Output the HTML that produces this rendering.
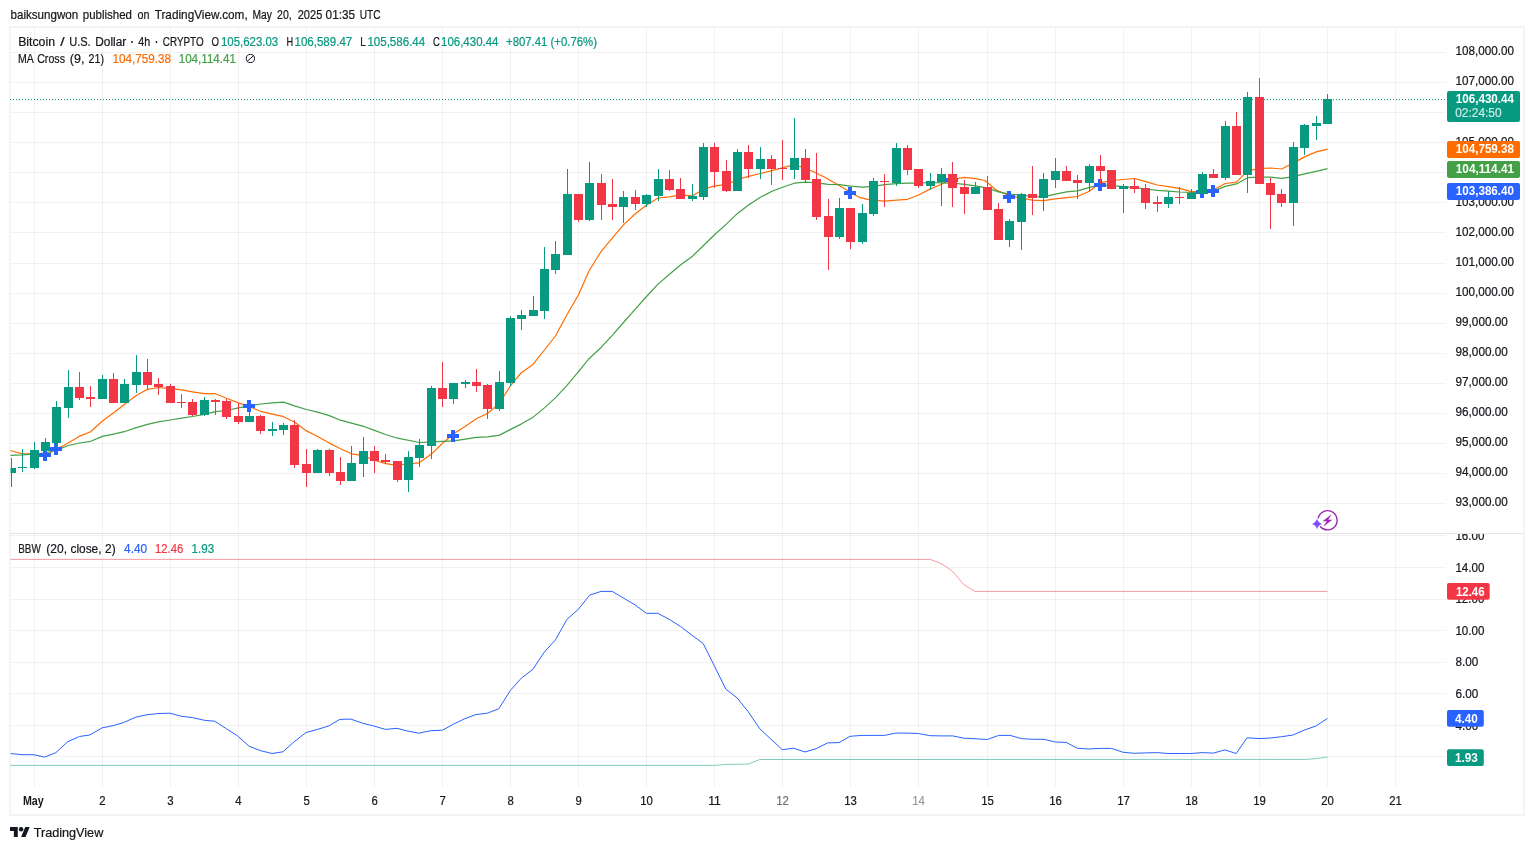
<!DOCTYPE html>
<html><head><meta charset="utf-8"><title>BTCUSD chart</title>
<style>html,body{margin:0;padding:0;background:#fff;width:1534px;height:850px;overflow:hidden}body{position:relative;font-family:"Liberation Sans",sans-serif}</style>
</head><body>
<svg width="1534" height="850" viewBox="0 0 1534 850" style="display:block;position:absolute;left:0;top:0;will-change:transform" font-family="Liberation Sans, sans-serif" font-size="12.5px" fill="#16171c">
<rect x="0" y="0" width="1534" height="850" fill="#fff"/>
<rect x="10" y="27" width="1514" height="788" fill="none" stroke="#f2f2f2" stroke-width="1.6"/>
<defs><clipPath id="cm"><rect x="10.5" y="28" width="1436" height="505"/></clipPath><clipPath id="cb"><rect x="10.5" y="534" width="1436" height="253"/></clipPath><clipPath id="ca"><rect x="1446" y="534" width="78" height="253"/></clipPath></defs>
<rect x="34" y="28" width="1" height="759" fill="#000" fill-opacity="0.05"/>
<rect x="102" y="28" width="1" height="759" fill="#000" fill-opacity="0.05"/>
<rect x="170" y="28" width="1" height="759" fill="#000" fill-opacity="0.05"/>
<rect x="238" y="28" width="1" height="759" fill="#000" fill-opacity="0.05"/>
<rect x="306" y="28" width="1" height="759" fill="#000" fill-opacity="0.05"/>
<rect x="374" y="28" width="1" height="759" fill="#000" fill-opacity="0.05"/>
<rect x="442" y="28" width="1" height="759" fill="#000" fill-opacity="0.05"/>
<rect x="510" y="28" width="1" height="759" fill="#000" fill-opacity="0.05"/>
<rect x="578" y="28" width="1" height="759" fill="#000" fill-opacity="0.05"/>
<rect x="646" y="28" width="1" height="759" fill="#000" fill-opacity="0.05"/>
<rect x="714" y="28" width="1" height="759" fill="#000" fill-opacity="0.05"/>
<rect x="782" y="28" width="1" height="759" fill="#000" fill-opacity="0.05"/>
<rect x="850" y="28" width="1" height="759" fill="#000" fill-opacity="0.05"/>
<rect x="918" y="28" width="1" height="759" fill="#000" fill-opacity="0.05"/>
<rect x="987" y="28" width="1" height="759" fill="#000" fill-opacity="0.05"/>
<rect x="1055" y="28" width="1" height="759" fill="#000" fill-opacity="0.05"/>
<rect x="1123" y="28" width="1" height="759" fill="#000" fill-opacity="0.05"/>
<rect x="1191" y="28" width="1" height="759" fill="#000" fill-opacity="0.05"/>
<rect x="1259" y="28" width="1" height="759" fill="#000" fill-opacity="0.05"/>
<rect x="1327" y="28" width="1" height="759" fill="#000" fill-opacity="0.05"/>
<rect x="1395" y="28" width="1" height="759" fill="#000" fill-opacity="0.05"/>
<rect x="10.5" y="503" width="1435.5" height="1" fill="#000" fill-opacity="0.05"/>
<rect x="10.5" y="473" width="1435.5" height="1" fill="#000" fill-opacity="0.05"/>
<rect x="10.5" y="443" width="1435.5" height="1" fill="#000" fill-opacity="0.05"/>
<rect x="10.5" y="413" width="1435.5" height="1" fill="#000" fill-opacity="0.05"/>
<rect x="10.5" y="383" width="1435.5" height="1" fill="#000" fill-opacity="0.05"/>
<rect x="10.5" y="353" width="1435.5" height="1" fill="#000" fill-opacity="0.05"/>
<rect x="10.5" y="323" width="1435.5" height="1" fill="#000" fill-opacity="0.05"/>
<rect x="10.5" y="293" width="1435.5" height="1" fill="#000" fill-opacity="0.05"/>
<rect x="10.5" y="263" width="1435.5" height="1" fill="#000" fill-opacity="0.05"/>
<rect x="10.5" y="232" width="1435.5" height="1" fill="#000" fill-opacity="0.05"/>
<rect x="10.5" y="202" width="1435.5" height="1" fill="#000" fill-opacity="0.05"/>
<rect x="10.5" y="172" width="1435.5" height="1" fill="#000" fill-opacity="0.05"/>
<rect x="10.5" y="142" width="1435.5" height="1" fill="#000" fill-opacity="0.05"/>
<rect x="10.5" y="112" width="1435.5" height="1" fill="#000" fill-opacity="0.05"/>
<rect x="10.5" y="82" width="1435.5" height="1" fill="#000" fill-opacity="0.05"/>
<rect x="10.5" y="52" width="1435.5" height="1" fill="#000" fill-opacity="0.05"/>
<rect x="10.5" y="756" width="1435.5" height="1" fill="#000" fill-opacity="0.05"/>
<rect x="10.5" y="725" width="1435.5" height="1" fill="#000" fill-opacity="0.05"/>
<rect x="10.5" y="693" width="1435.5" height="1" fill="#000" fill-opacity="0.05"/>
<rect x="10.5" y="662" width="1435.5" height="1" fill="#000" fill-opacity="0.05"/>
<rect x="10.5" y="630" width="1435.5" height="1" fill="#000" fill-opacity="0.05"/>
<rect x="10.5" y="599" width="1435.5" height="1" fill="#000" fill-opacity="0.05"/>
<rect x="10.5" y="567" width="1435.5" height="1" fill="#000" fill-opacity="0.05"/>
<rect x="10.5" y="535" width="1435.5" height="1" fill="#000" fill-opacity="0.05"/>
<rect x="10.5" y="533" width="1513" height="1" fill="#e4e5e9"/>
<line x1="10" y1="99.5" x2="1446" y2="99.5" stroke="#089981" stroke-width="1" stroke-dasharray="1 2" shape-rendering="crispEdges"/>
<g clip-path="url(#cm)">
<path d="M10.0,450.5 L22.6,453.9 L30.1,453.6 L34.5,453.2 L45.4,455.3 L56.7,448.9 L62.1,446.4 L79.1,436.4 L90.6,431.7 L102.4,421.0 L113.4,412.9 L124.3,404.6 L136.3,395.6 L147.5,389.3 L158.4,387.5 L170.4,388.6 L181.5,389.9 L192.5,391.8 L204.5,393.7 L215.4,393.7 L226.4,398.3 L238.5,402.9 L249.5,406.7 L260.5,411.3 L272.6,414.1 L283.5,416.7 L294.5,422.0 L306.5,430.9 L317.6,436.5 L329.3,443.1 L340.5,448.8 L351.5,453.8 L363.4,455.7 L374.5,460.2 L385.5,463.6 L392.4,464.7 L403.0,464.3 L418.8,462.9 L431.4,454.1 L442.3,443.5 L453.6,433.8 L465.4,426.2 L476.3,418.8 L487.5,413.5 L494.7,407.4 L503.5,396.8 L510.6,385.6 L521.0,373.0 L533.0,364.4 L544.4,350.0 L555.4,336.0 L567.4,314.0 L578.4,295.0 L589.0,271.0 L601.2,251.3 L612.5,237.9 L623.5,224.9 L635.4,213.7 L646.6,205.0 L658.5,197.8 L669.5,196.9 L680.6,194.8 L692.5,195.8 L703.5,189.3 L714.5,185.9 L726.4,184.7 L737.5,179.5 L748.5,176.4 L760.4,173.5 L782.5,167.8 L789.3,165.9 L801.0,166.7 L810.7,170.5 L824.3,177.0 L839.8,185.7 L850.5,192.5 L859.2,197.3 L868.9,199.7 L884.4,201.2 L896.5,200.2 L907.5,199.3 L918.6,195.0 L930.5,188.9 L941.5,184.3 L952.5,179.3 L964.5,177.4 L975.5,178.6 L985.0,180.5 L995.7,189.7 L1009.4,195.8 L1021.5,198.1 L1032.4,200.1 L1043.5,200.7 L1055.5,198.8 L1066.5,197.6 L1077.5,196.5 L1089.4,191.2 L1100.4,182.8 L1111.5,180.5 L1123.4,179.5 L1134.5,178.5 L1145.5,181.6 L1157.5,185.0 L1168.5,186.7 L1179.4,188.3 L1191.6,191.7 L1202.4,191.7 L1213.5,189.7 L1225.2,183.5 L1236.4,182.2 L1247.5,170.9 L1259.5,168.6 L1270.6,168.0 L1281.7,169.0 L1288.4,165.5 L1293.3,163.1 L1304.6,156.9 L1316.2,151.9 L1327.5,149.2" fill="none" stroke="#ff6d00" stroke-width="1.2" stroke-linejoin="round"/>
<path d="M10.0,455.3 L22.6,454.9 L34.5,453.9 L45.4,453.0 L56.5,450.2 L68.4,445.5 L79.5,443.0 L90.6,441.3 L102.4,436.4 L113.4,434.2 L124.3,431.7 L136.3,427.6 L147.5,424.4 L158.4,421.9 L170.4,420.0 L181.5,418.2 L192.5,416.5 L204.5,414.4 L215.4,411.6 L226.4,410.5 L238.5,407.9 L249.5,405.9 L260.5,404.0 L272.6,402.9 L283.5,402.1 L294.5,405.9 L306.5,409.5 L317.6,412.1 L329.3,415.6 L340.5,420.2 L351.5,423.2 L363.4,426.3 L374.5,430.4 L385.5,434.5 L397.6,438.2 L419.5,442.5 L431.4,441.8 L442.3,441.4 L453.6,440.9 L465.4,439.1 L476.3,437.3 L487.5,436.8 L499.5,435.1 L510.6,429.4 L521.2,424.1 L532.6,417.6 L545.0,407.4 L555.6,397.6 L567.0,385.3 L578.9,371.2 L589.0,358.7 L601.3,347.2 L612.0,335.7 L623.5,322.5 L635.1,309.3 L646.1,297.0 L657.3,284.9 L668.9,274.7 L680.1,265.3 L692.5,256.2 L703.5,245.5 L714.5,234.8 L726.4,224.1 L737.5,213.4 L748.6,205.1 L760.4,197.3 L771.5,191.5 L782.5,187.2 L794.4,183.2 L805.4,182.2 L816.5,182.8 L828.5,184.3 L839.6,184.7 L850.5,186.1 L862.5,187.2 L873.6,186.3 L884.4,184.7 L896.5,183.7 L907.5,183.2 L918.6,183.1 L930.5,182.5 L941.5,182.8 L952.5,183.2 L964.5,184.3 L975.5,185.8 L987.4,188.1 L998.4,191.9 L1009.4,194.2 L1021.5,195.0 L1032.4,196.5 L1043.5,196.8 L1055.5,194.2 L1066.5,191.9 L1077.5,190.9 L1089.4,187.4 L1100.4,185.1 L1111.5,185.6 L1123.4,186.6 L1134.5,187.7 L1145.5,189.0 L1157.5,190.4 L1168.5,191.1 L1179.4,192.0 L1191.6,192.4 L1202.4,192.4 L1213.5,191.1 L1225.2,186.4 L1236.4,183.9 L1247.5,177.7 L1259.5,177.1 L1270.6,177.1 L1281.7,178.3 L1293.3,176.7 L1304.6,173.8 L1316.2,171.3 L1327.5,168.6" fill="none" stroke="#43a047" stroke-width="1.2" stroke-linejoin="round"/>
<path d="M43,449h4v4h4v4h-4v4h-4v-4h-4v-4h4z" fill="#2962ff"/>
<path d="M54,443h4v4h4v4h-4v4h-4v-4h-4v-4h4z" fill="#2962ff"/>
<path d="M247,400h4v4h4v4h-4v4h-4v-4h-4v-4h4z" fill="#2962ff"/>
<path d="M451,430h4v4h4v4h-4v4h-4v-4h-4v-4h4z" fill="#2962ff"/>
<path d="M848,187h4v4h4v4h-4v4h-4v-4h-4v-4h4z" fill="#2962ff"/>
<path d="M950,174h4v4h4v4h-4v4h-4v-4h-4v-4h4z" fill="#2962ff"/>
<path d="M1007,191h4v4h4v4h-4v4h-4v-4h-4v-4h4z" fill="#2962ff"/>
<path d="M1098,179h4v4h4v4h-4v4h-4v-4h-4v-4h4z" fill="#2962ff"/>
<path d="M1200,186h4v4h4v4h-4v4h-4v-4h-4v-4h4z" fill="#2962ff"/>
<path d="M1211,185h4v4h4v4h-4v4h-4v-4h-4v-4h4z" fill="#2962ff"/>
<rect x="11" y="458" width="1" height="29" fill="#089981"/>
<rect x="7" y="468" width="9" height="5" fill="#089981"/>
<rect x="22" y="449" width="1" height="23" fill="#089981"/>
<rect x="18" y="467" width="9" height="1" fill="#089981"/>
<rect x="34" y="442" width="1" height="27" fill="#089981"/>
<rect x="30" y="450" width="9" height="18" fill="#089981"/>
<rect x="45" y="438" width="1" height="14" fill="#089981"/>
<rect x="41" y="442" width="9" height="9" fill="#089981"/>
<rect x="56" y="401" width="1" height="45" fill="#089981"/>
<rect x="52" y="407" width="9" height="36" fill="#089981"/>
<rect x="68" y="370" width="1" height="48" fill="#089981"/>
<rect x="64" y="387" width="9" height="21" fill="#089981"/>
<rect x="79" y="372" width="1" height="28" fill="#f23645"/>
<rect x="75" y="387" width="9" height="11" fill="#f23645"/>
<rect x="90" y="386" width="1" height="21" fill="#f23645"/>
<rect x="86" y="397" width="9" height="2" fill="#f23645"/>
<rect x="102" y="375" width="1" height="24" fill="#089981"/>
<rect x="98" y="379" width="9" height="20" fill="#089981"/>
<rect x="113" y="373" width="1" height="30" fill="#f23645"/>
<rect x="109" y="379" width="9" height="24" fill="#f23645"/>
<rect x="124" y="379" width="1" height="24" fill="#089981"/>
<rect x="120" y="384" width="9" height="19" fill="#089981"/>
<rect x="136" y="355" width="1" height="38" fill="#089981"/>
<rect x="132" y="372" width="9" height="13" fill="#089981"/>
<rect x="147" y="359" width="1" height="30" fill="#f23645"/>
<rect x="143" y="372" width="9" height="13" fill="#f23645"/>
<rect x="158" y="378" width="1" height="17" fill="#f23645"/>
<rect x="154" y="384" width="9" height="3" fill="#f23645"/>
<rect x="170" y="384" width="1" height="19" fill="#f23645"/>
<rect x="166" y="386" width="9" height="17" fill="#f23645"/>
<rect x="181" y="394" width="1" height="14" fill="#f23645"/>
<rect x="177" y="402" width="9" height="1" fill="#f23645"/>
<rect x="192" y="399" width="1" height="17" fill="#f23645"/>
<rect x="188" y="402" width="9" height="13" fill="#f23645"/>
<rect x="204" y="397" width="1" height="19" fill="#089981"/>
<rect x="200" y="400" width="9" height="15" fill="#089981"/>
<rect x="215" y="399" width="1" height="16" fill="#f23645"/>
<rect x="211" y="400" width="9" height="2" fill="#f23645"/>
<rect x="226" y="399" width="1" height="20" fill="#f23645"/>
<rect x="222" y="401" width="9" height="16" fill="#f23645"/>
<rect x="238" y="403" width="1" height="21" fill="#f23645"/>
<rect x="234" y="416" width="9" height="6" fill="#f23645"/>
<rect x="249" y="410" width="1" height="12" fill="#089981"/>
<rect x="245" y="416" width="9" height="6" fill="#089981"/>
<rect x="260" y="415" width="1" height="19" fill="#f23645"/>
<rect x="256" y="416" width="9" height="15" fill="#f23645"/>
<rect x="272" y="422" width="1" height="14" fill="#089981"/>
<rect x="268" y="429" width="9" height="2" fill="#089981"/>
<rect x="283" y="423" width="1" height="12" fill="#089981"/>
<rect x="279" y="425" width="9" height="5" fill="#089981"/>
<rect x="294" y="420" width="1" height="48" fill="#f23645"/>
<rect x="290" y="425" width="9" height="40" fill="#f23645"/>
<rect x="306" y="449" width="1" height="38" fill="#f23645"/>
<rect x="302" y="464" width="9" height="9" fill="#f23645"/>
<rect x="317" y="449" width="1" height="24" fill="#089981"/>
<rect x="313" y="450" width="9" height="23" fill="#089981"/>
<rect x="329" y="449" width="1" height="27" fill="#f23645"/>
<rect x="325" y="450" width="9" height="23" fill="#f23645"/>
<rect x="340" y="457" width="1" height="28" fill="#f23645"/>
<rect x="336" y="472" width="9" height="9" fill="#f23645"/>
<rect x="351" y="446" width="1" height="35" fill="#089981"/>
<rect x="347" y="463" width="9" height="18" fill="#089981"/>
<rect x="363" y="437" width="1" height="40" fill="#089981"/>
<rect x="359" y="451" width="9" height="13" fill="#089981"/>
<rect x="374" y="446" width="1" height="27" fill="#f23645"/>
<rect x="370" y="451" width="9" height="10" fill="#f23645"/>
<rect x="385" y="454" width="1" height="10" fill="#f23645"/>
<rect x="381" y="460" width="9" height="2" fill="#f23645"/>
<rect x="397" y="461" width="1" height="21" fill="#f23645"/>
<rect x="393" y="461" width="9" height="19" fill="#f23645"/>
<rect x="408" y="451" width="1" height="41" fill="#089981"/>
<rect x="404" y="457" width="9" height="23" fill="#089981"/>
<rect x="419" y="439" width="1" height="28" fill="#089981"/>
<rect x="415" y="445" width="9" height="13" fill="#089981"/>
<rect x="431" y="386" width="1" height="73" fill="#089981"/>
<rect x="427" y="388" width="9" height="58" fill="#089981"/>
<rect x="442" y="362" width="1" height="45" fill="#f23645"/>
<rect x="438" y="388" width="9" height="11" fill="#f23645"/>
<rect x="453" y="383" width="1" height="21" fill="#089981"/>
<rect x="449" y="383" width="9" height="16" fill="#089981"/>
<rect x="465" y="380" width="1" height="8" fill="#089981"/>
<rect x="461" y="382" width="9" height="2" fill="#089981"/>
<rect x="476" y="369" width="1" height="23" fill="#f23645"/>
<rect x="472" y="382" width="9" height="4" fill="#f23645"/>
<rect x="487" y="384" width="1" height="35" fill="#f23645"/>
<rect x="483" y="385" width="9" height="24" fill="#f23645"/>
<rect x="499" y="371" width="1" height="40" fill="#089981"/>
<rect x="495" y="382" width="9" height="27" fill="#089981"/>
<rect x="510" y="316" width="1" height="70" fill="#089981"/>
<rect x="506" y="318" width="9" height="65" fill="#089981"/>
<rect x="521" y="310" width="1" height="20" fill="#089981"/>
<rect x="517" y="315" width="9" height="4" fill="#089981"/>
<rect x="533" y="296" width="1" height="20" fill="#089981"/>
<rect x="529" y="310" width="9" height="6" fill="#089981"/>
<rect x="544" y="247" width="1" height="72" fill="#089981"/>
<rect x="540" y="269" width="9" height="42" fill="#089981"/>
<rect x="555" y="241" width="1" height="33" fill="#089981"/>
<rect x="551" y="254" width="9" height="16" fill="#089981"/>
<rect x="567" y="169" width="1" height="86" fill="#089981"/>
<rect x="563" y="194" width="9" height="61" fill="#089981"/>
<rect x="578" y="194" width="1" height="28" fill="#f23645"/>
<rect x="574" y="194" width="9" height="26" fill="#f23645"/>
<rect x="589" y="162" width="1" height="59" fill="#089981"/>
<rect x="585" y="183" width="9" height="37" fill="#089981"/>
<rect x="601" y="174" width="1" height="46" fill="#f23645"/>
<rect x="597" y="183" width="9" height="22" fill="#f23645"/>
<rect x="612" y="179" width="1" height="41" fill="#f23645"/>
<rect x="608" y="204" width="9" height="3" fill="#f23645"/>
<rect x="623" y="191" width="1" height="32" fill="#089981"/>
<rect x="619" y="197" width="9" height="10" fill="#089981"/>
<rect x="635" y="190" width="1" height="20" fill="#f23645"/>
<rect x="631" y="197" width="9" height="7" fill="#f23645"/>
<rect x="646" y="194" width="1" height="13" fill="#089981"/>
<rect x="642" y="195" width="9" height="9" fill="#089981"/>
<rect x="658" y="169" width="1" height="32" fill="#089981"/>
<rect x="654" y="179" width="9" height="17" fill="#089981"/>
<rect x="669" y="170" width="1" height="21" fill="#f23645"/>
<rect x="665" y="179" width="9" height="11" fill="#f23645"/>
<rect x="680" y="178" width="1" height="21" fill="#f23645"/>
<rect x="676" y="189" width="9" height="10" fill="#f23645"/>
<rect x="692" y="184" width="1" height="17" fill="#089981"/>
<rect x="688" y="196" width="9" height="3" fill="#089981"/>
<rect x="703" y="143" width="1" height="57" fill="#089981"/>
<rect x="699" y="147" width="9" height="50" fill="#089981"/>
<rect x="714" y="143" width="1" height="45" fill="#f23645"/>
<rect x="710" y="147" width="9" height="25" fill="#f23645"/>
<rect x="726" y="160" width="1" height="32" fill="#f23645"/>
<rect x="722" y="171" width="9" height="20" fill="#f23645"/>
<rect x="737" y="149" width="1" height="42" fill="#089981"/>
<rect x="733" y="152" width="9" height="39" fill="#089981"/>
<rect x="748" y="145" width="1" height="33" fill="#f23645"/>
<rect x="744" y="152" width="9" height="17" fill="#f23645"/>
<rect x="760" y="147" width="1" height="32" fill="#089981"/>
<rect x="756" y="159" width="9" height="10" fill="#089981"/>
<rect x="771" y="155" width="1" height="30" fill="#f23645"/>
<rect x="767" y="159" width="9" height="10" fill="#f23645"/>
<rect x="782" y="140" width="1" height="40" fill="#f23645"/>
<rect x="778" y="168" width="9" height="1" fill="#f23645"/>
<rect x="794" y="118" width="1" height="61" fill="#089981"/>
<rect x="790" y="158" width="9" height="12" fill="#089981"/>
<rect x="805" y="149" width="1" height="34" fill="#f23645"/>
<rect x="801" y="158" width="9" height="22" fill="#f23645"/>
<rect x="816" y="153" width="1" height="67" fill="#f23645"/>
<rect x="812" y="179" width="9" height="38" fill="#f23645"/>
<rect x="828" y="199" width="1" height="71" fill="#f23645"/>
<rect x="824" y="216" width="9" height="21" fill="#f23645"/>
<rect x="839" y="198" width="1" height="41" fill="#089981"/>
<rect x="835" y="208" width="9" height="29" fill="#089981"/>
<rect x="850" y="208" width="1" height="41" fill="#f23645"/>
<rect x="846" y="208" width="9" height="34" fill="#f23645"/>
<rect x="862" y="204" width="1" height="40" fill="#089981"/>
<rect x="858" y="213" width="9" height="29" fill="#089981"/>
<rect x="873" y="178" width="1" height="38" fill="#089981"/>
<rect x="869" y="181" width="9" height="33" fill="#089981"/>
<rect x="884" y="174" width="1" height="33" fill="#f23645"/>
<rect x="880" y="181" width="9" height="1" fill="#f23645"/>
<rect x="896" y="143" width="1" height="43" fill="#089981"/>
<rect x="892" y="148" width="9" height="35" fill="#089981"/>
<rect x="907" y="145" width="1" height="30" fill="#f23645"/>
<rect x="903" y="148" width="9" height="22" fill="#f23645"/>
<rect x="918" y="169" width="1" height="19" fill="#f23645"/>
<rect x="914" y="169" width="9" height="17" fill="#f23645"/>
<rect x="930" y="173" width="1" height="17" fill="#089981"/>
<rect x="926" y="181" width="9" height="5" fill="#089981"/>
<rect x="941" y="168" width="1" height="38" fill="#089981"/>
<rect x="937" y="174" width="9" height="8" fill="#089981"/>
<rect x="952" y="162" width="1" height="45" fill="#f23645"/>
<rect x="948" y="174" width="9" height="14" fill="#f23645"/>
<rect x="964" y="180" width="1" height="34" fill="#f23645"/>
<rect x="960" y="187" width="9" height="7" fill="#f23645"/>
<rect x="975" y="182" width="1" height="12" fill="#089981"/>
<rect x="971" y="187" width="9" height="7" fill="#089981"/>
<rect x="987" y="176" width="1" height="34" fill="#f23645"/>
<rect x="983" y="187" width="9" height="23" fill="#f23645"/>
<rect x="998" y="203" width="1" height="37" fill="#f23645"/>
<rect x="994" y="209" width="9" height="31" fill="#f23645"/>
<rect x="1009" y="219" width="1" height="28" fill="#089981"/>
<rect x="1005" y="221" width="9" height="19" fill="#089981"/>
<rect x="1021" y="193" width="1" height="57" fill="#089981"/>
<rect x="1017" y="194" width="9" height="28" fill="#089981"/>
<rect x="1032" y="166" width="1" height="49" fill="#f23645"/>
<rect x="1028" y="194" width="9" height="4" fill="#f23645"/>
<rect x="1043" y="173" width="1" height="38" fill="#089981"/>
<rect x="1039" y="179" width="9" height="19" fill="#089981"/>
<rect x="1055" y="158" width="1" height="30" fill="#089981"/>
<rect x="1051" y="171" width="9" height="9" fill="#089981"/>
<rect x="1066" y="166" width="1" height="15" fill="#f23645"/>
<rect x="1062" y="171" width="9" height="10" fill="#f23645"/>
<rect x="1077" y="175" width="1" height="24" fill="#f23645"/>
<rect x="1073" y="180" width="9" height="3" fill="#f23645"/>
<rect x="1089" y="164" width="1" height="27" fill="#089981"/>
<rect x="1085" y="166" width="9" height="17" fill="#089981"/>
<rect x="1100" y="155" width="1" height="29" fill="#f23645"/>
<rect x="1096" y="166" width="9" height="5" fill="#f23645"/>
<rect x="1111" y="170" width="1" height="19" fill="#f23645"/>
<rect x="1107" y="170" width="9" height="19" fill="#f23645"/>
<rect x="1123" y="184" width="1" height="29" fill="#089981"/>
<rect x="1119" y="186" width="9" height="3" fill="#089981"/>
<rect x="1134" y="179" width="1" height="14" fill="#f23645"/>
<rect x="1130" y="186" width="9" height="3" fill="#f23645"/>
<rect x="1145" y="184" width="1" height="25" fill="#f23645"/>
<rect x="1141" y="188" width="9" height="15" fill="#f23645"/>
<rect x="1157" y="196" width="1" height="16" fill="#f23645"/>
<rect x="1153" y="202" width="9" height="2" fill="#f23645"/>
<rect x="1168" y="191" width="1" height="17" fill="#089981"/>
<rect x="1164" y="197" width="9" height="7" fill="#089981"/>
<rect x="1179" y="187" width="1" height="17" fill="#f23645"/>
<rect x="1175" y="197" width="9" height="1" fill="#f23645"/>
<rect x="1191" y="189" width="1" height="10" fill="#089981"/>
<rect x="1187" y="193" width="9" height="6" fill="#089981"/>
<rect x="1202" y="172" width="1" height="22" fill="#089981"/>
<rect x="1198" y="174" width="9" height="20" fill="#089981"/>
<rect x="1213" y="169" width="1" height="9" fill="#f23645"/>
<rect x="1209" y="174" width="9" height="4" fill="#f23645"/>
<rect x="1225" y="121" width="1" height="59" fill="#089981"/>
<rect x="1221" y="126" width="9" height="52" fill="#089981"/>
<rect x="1236" y="112" width="1" height="63" fill="#f23645"/>
<rect x="1232" y="126" width="9" height="49" fill="#f23645"/>
<rect x="1247" y="92" width="1" height="101" fill="#089981"/>
<rect x="1243" y="97" width="9" height="78" fill="#089981"/>
<rect x="1259" y="78" width="1" height="106" fill="#f23645"/>
<rect x="1255" y="97" width="9" height="87" fill="#f23645"/>
<rect x="1270" y="178" width="1" height="51" fill="#f23645"/>
<rect x="1266" y="183" width="9" height="12" fill="#f23645"/>
<rect x="1281" y="189" width="1" height="18" fill="#f23645"/>
<rect x="1277" y="194" width="9" height="9" fill="#f23645"/>
<rect x="1293" y="142" width="1" height="84" fill="#089981"/>
<rect x="1289" y="147" width="9" height="56" fill="#089981"/>
<rect x="1304" y="124" width="1" height="31" fill="#089981"/>
<rect x="1300" y="125" width="9" height="23" fill="#089981"/>
<rect x="1316" y="116" width="1" height="24" fill="#089981"/>
<rect x="1312" y="123" width="9" height="3" fill="#089981"/>
<rect x="1327" y="94" width="1" height="30" fill="#089981"/>
<rect x="1323" y="99" width="9" height="25" fill="#089981"/>
</g>
<g clip-path="url(#cb)">
<path d="M10.0,559.4 L930.0,559.4 L941.0,563.5 L952.1,570.8 L963.8,584.5 L974.9,591.4 L1327.5,591.4" fill="none" stroke="#f23645" stroke-opacity="0.5" stroke-width="1"/>
<path d="M10.0,765.4 L714.3,765.4 L725.8,764.4 L748.3,764.1 L759.8,759.5 L1305.0,759.4 L1316.0,758.6 L1327.5,757.1" fill="none" stroke="#089981" stroke-opacity="0.5" stroke-width="1"/>
<path d="M10.3,753.5 L22.0,754.7 L33.8,754.7 L44.7,757.1 L55.9,752.6 L67.6,741.8 L79.4,736.5 L89.7,735.0 L102.0,727.9 L113.2,725.6 L123.5,722.6 L135.9,717.1 L147.0,714.7 L158.8,713.5 L170.0,713.2 L180.9,716.2 L192.6,717.6 L204.4,720.3 L214.7,721.2 L226.5,728.8 L237.6,735.9 L249.1,746.2 L260.3,750.6 L272.0,753.5 L282.9,751.8 L294.1,741.8 L305.9,732.6 L317.6,729.4 L328.8,725.9 L339.7,719.4 L350.9,719.1 L362.4,723.2 L373.5,725.9 L385.5,729.4 L397.0,728.3 L407.4,731.0 L418.9,733.2 L430.7,730.7 L442.4,730.2 L453.4,724.2 L464.9,718.7 L475.8,714.6 L487.3,713.2 L498.8,708.8 L510.3,690.5 L521.3,678.2 L532.8,669.4 L544.3,652.1 L555.5,639.8 L567.0,619.3 L578.5,609.2 L589.5,595.2 L601.0,591.4 L612.2,591.4 L623.7,598.2 L635.2,605.0 L646.4,613.3 L657.7,613.3 L669.2,619.3 L680.4,626.4 L691.9,635.2 L703.1,643.4 L714.3,665.8 L725.8,689.1 L737.1,697.9 L748.3,711.8 L759.8,728.8 L771.0,739.2 L782.3,749.7 L793.6,748.2 L805.0,752.0 L816.3,748.6 L827.6,742.9 L839.0,742.6 L850.0,736.3 L861.9,735.4 L873.2,735.4 L884.5,735.4 L895.9,733.1 L907.2,733.1 L918.6,733.5 L929.9,735.7 L941.2,735.9 L952.6,735.9 L963.9,738.2 L976.0,738.8 L987.4,739.5 L998.7,735.4 L1010.1,735.4 L1021.4,738.6 L1032.7,739.3 L1044.1,739.3 L1055.4,742.0 L1066.1,742.4 L1077.4,748.2 L1088.8,749.0 L1100.1,748.4 L1111.4,748.4 L1122.8,752.2 L1134.1,753.3 L1145.5,752.9 L1156.8,752.6 L1168.1,753.5 L1179.5,753.5 L1190.8,753.5 L1202.2,752.6 L1213.5,753.1 L1224.9,749.9 L1236.2,753.5 L1247.0,737.8 L1258.9,738.6 L1270.2,738.0 L1281.6,736.7 L1292.9,735.0 L1304.3,730.1 L1316.2,725.9 L1327.5,718.4" fill="none" stroke="#2962ff" stroke-width="1" stroke-linejoin="round"/>
</g>
<g>
<rect x="1313" y="509" width="26" height="23" fill="#fff"/>
<path d="M1318.23,517.82 A9.6,9.6 0 1 1 1320.37,526.72" fill="none" stroke="#9c27b0" stroke-width="1.4" stroke-linecap="round"/>
<path d="M1331.0,515.0 L1323.3,521.0 L1327.2,521.0 L1323.9,526.0 L1331.7,519.9 L1327.9,519.9 Z" fill="#9c27b0" stroke="#9c27b0" stroke-width="0.5" stroke-linejoin="round"/>
<path d="M1317.0,518.8 Q1318.1,522.9 1322.2,524.0 Q1318.1,525.1 1317.0,529.2 Q1315.9,525.1 1311.8,524.0 Q1315.9,522.9 1317.0,518.8 Z" fill="#7c4dff"/>
</g>
<text x="10.5" y="18.8" textLength="67.7" lengthAdjust="spacingAndGlyphs" font-size="12.7px" stroke="#16171c" stroke-width="0.22">baiksungwon</text>
<text x="82.8" y="18.8" textLength="49.2" lengthAdjust="spacingAndGlyphs" font-size="12.7px" stroke="#16171c" stroke-width="0.22">published</text>
<text x="137.5" y="18.8" textLength="11.9" lengthAdjust="spacingAndGlyphs" font-size="12.7px" stroke="#16171c" stroke-width="0.22">on</text>
<text x="154.7" y="18.8" textLength="93.0" lengthAdjust="spacingAndGlyphs" font-size="12.7px" stroke="#16171c" stroke-width="0.22">TradingView.com,</text>
<text x="252.5" y="18.8" textLength="19.4" lengthAdjust="spacingAndGlyphs" font-size="12.7px" stroke="#16171c" stroke-width="0.22">May</text>
<text x="277.1" y="18.8" textLength="14.6" lengthAdjust="spacingAndGlyphs" font-size="12.7px" stroke="#16171c" stroke-width="0.22">20,</text>
<text x="297.7" y="18.8" textLength="24.6" lengthAdjust="spacingAndGlyphs" font-size="12.7px" stroke="#16171c" stroke-width="0.22">2025</text>
<text x="325.6" y="18.8" textLength="29.5" lengthAdjust="spacingAndGlyphs" font-size="12.7px" stroke="#16171c" stroke-width="0.22">01:35</text>
<text x="359.7" y="18.8" textLength="20.8" lengthAdjust="spacingAndGlyphs" font-size="12.7px" stroke="#16171c" stroke-width="0.22">UTC</text>
<text x="18.2" y="45.8" textLength="36.8" lengthAdjust="spacingAndGlyphs" stroke="#16171c" stroke-width="0.22">Bitcoin</text>
<text x="60.3" y="45.8" textLength="4.4" lengthAdjust="spacingAndGlyphs" stroke="#16171c" stroke-width="0.22">/</text>
<text x="69.2" y="45.8" textLength="21.5" lengthAdjust="spacingAndGlyphs" stroke="#16171c" stroke-width="0.22">U.S.</text>
<text x="95.3" y="45.8" textLength="30.9" lengthAdjust="spacingAndGlyphs" stroke="#16171c" stroke-width="0.22">Dollar</text>
<text x="130.6" y="45.8" textLength="3.4" lengthAdjust="spacingAndGlyphs" font-weight="bold">·</text>
<text x="138.3" y="45.8" textLength="11.9" lengthAdjust="spacingAndGlyphs" stroke="#16171c" stroke-width="0.22">4h</text>
<text x="155.0" y="45.8" textLength="3.4" lengthAdjust="spacingAndGlyphs" font-weight="bold">·</text>
<text x="162.8" y="45.8" textLength="40.8" lengthAdjust="spacingAndGlyphs" stroke="#16171c" stroke-width="0.22">CRYPTO</text>
<text x="211.6" y="45.8" textLength="7.5" lengthAdjust="spacingAndGlyphs" stroke="#16171c" stroke-width="0.22">O</text>
<text x="220.9" y="45.8" textLength="57.3" lengthAdjust="spacingAndGlyphs" fill="#089981" stroke="#089981" stroke-width="0.22">105,623.03</text>
<text x="286.4" y="45.8" textLength="6.6" lengthAdjust="spacingAndGlyphs" stroke="#16171c" stroke-width="0.22">H</text>
<text x="294.5" y="45.8" textLength="57.7" lengthAdjust="spacingAndGlyphs" fill="#089981" stroke="#089981" stroke-width="0.22">106,589.47</text>
<text x="360.3" y="45.8" textLength="5.5" lengthAdjust="spacingAndGlyphs" stroke="#16171c" stroke-width="0.22">L</text>
<text x="367.4" y="45.8" textLength="57.8" lengthAdjust="spacingAndGlyphs" fill="#089981" stroke="#089981" stroke-width="0.22">105,586.44</text>
<text x="433" y="45.8" textLength="6.8" lengthAdjust="spacingAndGlyphs" stroke="#16171c" stroke-width="0.22">C</text>
<text x="441" y="45.8" textLength="57.5" lengthAdjust="spacingAndGlyphs" fill="#089981" stroke="#089981" stroke-width="0.22">106,430.44</text>
<text x="506" y="45.8" textLength="91" lengthAdjust="spacingAndGlyphs" fill="#089981" stroke="#089981" stroke-width="0.22">+807.41 (+0.76%)</text>
<text x="18" y="62.9" textLength="15.8" lengthAdjust="spacingAndGlyphs" stroke="#16171c" stroke-width="0.22">MA</text>
<text x="37.2" y="62.9" textLength="27.8" lengthAdjust="spacingAndGlyphs" stroke="#16171c" stroke-width="0.22">Cross</text>
<text x="69.8" y="62.9" textLength="14.6" lengthAdjust="spacingAndGlyphs" stroke="#16171c" stroke-width="0.22">(9,</text>
<text x="88.6" y="62.9" textLength="15.4" lengthAdjust="spacingAndGlyphs" stroke="#16171c" stroke-width="0.22">21)</text>
<text x="112.5" y="62.9" textLength="58.5" lengthAdjust="spacingAndGlyphs" fill="#ff6d00" stroke="#ff6d00" stroke-width="0.22">104,759.38</text>
<text x="178.7" y="62.9" textLength="57.3" lengthAdjust="spacingAndGlyphs" fill="#43a047" stroke="#43a047" stroke-width="0.22">104,114.41</text>
<circle cx="250.4" cy="58.5" r="4.1" fill="none" stroke="#131722" stroke-width="1"/>
<line x1="247.2" y1="61.4" x2="253.6" y2="55.6" stroke="#131722" stroke-width="1"/>
<text x="18.2" y="552.9" textLength="22.6" lengthAdjust="spacingAndGlyphs" stroke="#16171c" stroke-width="0.22">BBW</text>
<text x="46.3" y="552.9" textLength="20.7" lengthAdjust="spacingAndGlyphs" stroke="#16171c" stroke-width="0.22">(20,</text>
<text x="70.5" y="552.9" textLength="31.0" lengthAdjust="spacingAndGlyphs" stroke="#16171c" stroke-width="0.22">close,</text>
<text x="105.1" y="552.9" textLength="10.6" lengthAdjust="spacingAndGlyphs" stroke="#16171c" stroke-width="0.22">2)</text>
<text x="124.1" y="552.9" textLength="22.9" lengthAdjust="spacingAndGlyphs" fill="#2962ff" stroke="#2962ff" stroke-width="0.22">4.40</text>
<text x="155" y="552.9" textLength="28.2" lengthAdjust="spacingAndGlyphs" fill="#f23645" stroke="#f23645" stroke-width="0.22">12.46</text>
<text x="191.5" y="552.9" textLength="22.6" lengthAdjust="spacingAndGlyphs" fill="#089981" stroke="#089981" stroke-width="0.22">1.93</text>
<text x="1455.5" y="506.4" textLength="52.3" lengthAdjust="spacingAndGlyphs" stroke="#16171c" stroke-width="0.22">93,000.00</text>
<text x="1455.5" y="476.4" textLength="52.3" lengthAdjust="spacingAndGlyphs" stroke="#16171c" stroke-width="0.22">94,000.00</text>
<text x="1455.5" y="446.3" textLength="52.3" lengthAdjust="spacingAndGlyphs" stroke="#16171c" stroke-width="0.22">95,000.00</text>
<text x="1455.5" y="416.2" textLength="52.3" lengthAdjust="spacingAndGlyphs" stroke="#16171c" stroke-width="0.22">96,000.00</text>
<text x="1455.5" y="386.1" textLength="52.3" lengthAdjust="spacingAndGlyphs" stroke="#16171c" stroke-width="0.22">97,000.00</text>
<text x="1455.5" y="356.1" textLength="52.3" lengthAdjust="spacingAndGlyphs" stroke="#16171c" stroke-width="0.22">98,000.00</text>
<text x="1455.5" y="326.0" textLength="52.3" lengthAdjust="spacingAndGlyphs" stroke="#16171c" stroke-width="0.22">99,000.00</text>
<text x="1455.5" y="295.9" textLength="58.4" lengthAdjust="spacingAndGlyphs" stroke="#16171c" stroke-width="0.22">100,000.00</text>
<text x="1455.5" y="265.8" textLength="58.4" lengthAdjust="spacingAndGlyphs" stroke="#16171c" stroke-width="0.22">101,000.00</text>
<text x="1455.5" y="235.8" textLength="58.4" lengthAdjust="spacingAndGlyphs" stroke="#16171c" stroke-width="0.22">102,000.00</text>
<text x="1455.5" y="205.7" textLength="58.4" lengthAdjust="spacingAndGlyphs" stroke="#16171c" stroke-width="0.22">103,000.00</text>
<text x="1455.5" y="175.6" textLength="58.4" lengthAdjust="spacingAndGlyphs" stroke="#16171c" stroke-width="0.22">104,000.00</text>
<text x="1455.5" y="145.5" textLength="58.4" lengthAdjust="spacingAndGlyphs" stroke="#16171c" stroke-width="0.22">105,000.00</text>
<text x="1455.5" y="115.5" textLength="58.4" lengthAdjust="spacingAndGlyphs" stroke="#16171c" stroke-width="0.22">106,000.00</text>
<text x="1455.5" y="85.4" textLength="58.4" lengthAdjust="spacingAndGlyphs" stroke="#16171c" stroke-width="0.22">107,000.00</text>
<text x="1455.5" y="55.3" textLength="58.4" lengthAdjust="spacingAndGlyphs" stroke="#16171c" stroke-width="0.22">108,000.00</text>
<rect x="1447" y="91" width="73" height="31" rx="2" ry="2" fill="#089981"/>
<text x="1455.8" y="103.2" textLength="58.2" lengthAdjust="spacingAndGlyphs" fill="#fff" font-weight="bold">106,430.44</text>
<text x="1455.2" y="116.8" textLength="46.4" lengthAdjust="spacingAndGlyphs" fill="#fff" fill-opacity="0.75" stroke="#fff" stroke-width="0.22" stroke-opacity="0.75">02:24:50</text>
<rect x="1447" y="141" width="73" height="17" rx="2" ry="2" fill="#ff6d00"/>
<text x="1455.8" y="152.9" textLength="58.2" lengthAdjust="spacingAndGlyphs" fill="#fff" font-weight="bold">104,759.38</text>
<rect x="1447" y="161" width="73" height="17" rx="2" ry="2" fill="#43a047"/>
<text x="1455.8" y="172.9" textLength="58.2" lengthAdjust="spacingAndGlyphs" fill="#fff" font-weight="bold">104,114.41</text>
<rect x="1447" y="183" width="73" height="17" rx="2" ry="2" fill="#2962ff"/>
<text x="1455.8" y="194.7" textLength="58.2" lengthAdjust="spacingAndGlyphs" fill="#fff" font-weight="bold">103,386.40</text>
<g clip-path="url(#ca)">
<text x="1455.4" y="761.0" textLength="22.9" lengthAdjust="spacingAndGlyphs" stroke="#16171c" stroke-width="0.22">2.00</text>
<text x="1455.4" y="729.5" textLength="22.9" lengthAdjust="spacingAndGlyphs" stroke="#16171c" stroke-width="0.22">4.00</text>
<text x="1455.4" y="697.9" textLength="22.9" lengthAdjust="spacingAndGlyphs" stroke="#16171c" stroke-width="0.22">6.00</text>
<text x="1455.4" y="666.3" textLength="22.9" lengthAdjust="spacingAndGlyphs" stroke="#16171c" stroke-width="0.22">8.00</text>
<text x="1455.4" y="634.7" textLength="29.0" lengthAdjust="spacingAndGlyphs" stroke="#16171c" stroke-width="0.22">10.00</text>
<text x="1455.4" y="603.2" textLength="29.0" lengthAdjust="spacingAndGlyphs" stroke="#16171c" stroke-width="0.22">12.00</text>
<text x="1455.4" y="571.6" textLength="29.0" lengthAdjust="spacingAndGlyphs" stroke="#16171c" stroke-width="0.22">14.00</text>
<text x="1455.4" y="540.0" textLength="29.0" lengthAdjust="spacingAndGlyphs" stroke="#16171c" stroke-width="0.22">16.00</text>
</g>
<rect x="1447" y="583" width="42.7" height="16.8" rx="2" ry="2" fill="#f23645"/>
<text x="1455.9" y="595.6" textLength="28.7" lengthAdjust="spacingAndGlyphs" fill="#fff" font-weight="bold">12.46</text>
<rect x="1447" y="710" width="36.8" height="16.8" rx="2" ry="2" fill="#2962ff"/>
<text x="1455.1" y="722.6" textLength="22.8" lengthAdjust="spacingAndGlyphs" fill="#fff" font-weight="bold">4.40</text>
<rect x="1447" y="749.2" width="36.8" height="16.8" rx="2" ry="2" fill="#089981"/>
<text x="1455.1" y="761.8" textLength="22.8" lengthAdjust="spacingAndGlyphs" fill="#fff" font-weight="bold">1.93</text>
<text x="22.9" y="805.3" textLength="20.8" lengthAdjust="spacingAndGlyphs" font-weight="bold">May</text>
<text x="99.3" y="805.2" textLength="6.3" lengthAdjust="spacingAndGlyphs" stroke="#16171c" stroke-width="0.22">2</text>
<text x="167.3" y="805.2" textLength="6.3" lengthAdjust="spacingAndGlyphs" stroke="#16171c" stroke-width="0.22">3</text>
<text x="235.3" y="805.2" textLength="6.3" lengthAdjust="spacingAndGlyphs" stroke="#16171c" stroke-width="0.22">4</text>
<text x="303.4" y="805.2" textLength="6.3" lengthAdjust="spacingAndGlyphs" stroke="#16171c" stroke-width="0.22">5</text>
<text x="371.4" y="805.2" textLength="6.3" lengthAdjust="spacingAndGlyphs" stroke="#16171c" stroke-width="0.22">6</text>
<text x="439.4" y="805.2" textLength="6.3" lengthAdjust="spacingAndGlyphs" stroke="#16171c" stroke-width="0.22">7</text>
<text x="507.4" y="805.2" textLength="6.3" lengthAdjust="spacingAndGlyphs" stroke="#16171c" stroke-width="0.22">8</text>
<text x="575.4" y="805.2" textLength="6.3" lengthAdjust="spacingAndGlyphs" stroke="#16171c" stroke-width="0.22">9</text>
<text x="640.2" y="805.2" textLength="12.6" lengthAdjust="spacingAndGlyphs" stroke="#16171c" stroke-width="0.22">10</text>
<text x="708.2" y="805.2" textLength="12.6" lengthAdjust="spacingAndGlyphs" stroke="#16171c" stroke-width="0.22">11</text>
<text x="776.2" y="805.2" textLength="12.6" lengthAdjust="spacingAndGlyphs" fill="#6c6f79" stroke="#6c6f79" stroke-width="0.22">12</text>
<text x="844.2" y="805.2" textLength="12.6" lengthAdjust="spacingAndGlyphs" stroke="#16171c" stroke-width="0.22">13</text>
<text x="912.2" y="805.2" textLength="12.6" lengthAdjust="spacingAndGlyphs" fill="#9699a2" stroke="#9699a2" stroke-width="0.22">14</text>
<text x="981.2" y="805.2" textLength="12.6" lengthAdjust="spacingAndGlyphs" stroke="#16171c" stroke-width="0.22">15</text>
<text x="1049.2" y="805.2" textLength="12.6" lengthAdjust="spacingAndGlyphs" stroke="#16171c" stroke-width="0.22">16</text>
<text x="1117.2" y="805.2" textLength="12.6" lengthAdjust="spacingAndGlyphs" stroke="#16171c" stroke-width="0.22">17</text>
<text x="1185.2" y="805.2" textLength="12.6" lengthAdjust="spacingAndGlyphs" stroke="#16171c" stroke-width="0.22">18</text>
<text x="1253.2" y="805.2" textLength="12.6" lengthAdjust="spacingAndGlyphs" stroke="#16171c" stroke-width="0.22">19</text>
<text x="1321.2" y="805.2" textLength="12.6" lengthAdjust="spacingAndGlyphs" stroke="#16171c" stroke-width="0.22">20</text>
<text x="1389.2" y="805.2" textLength="12.6" lengthAdjust="spacingAndGlyphs" stroke="#16171c" stroke-width="0.22">21</text>
<g transform="translate(10,824.8) scale(0.555)" fill="#131722"><path d="M14 22H7V11H0V4h14v18zM28 22h-8l7.5-18h8L28 22z"/><circle cx="20" cy="8" r="4"/></g>
<text x="33.7" y="836.5" textLength="69.6" lengthAdjust="spacingAndGlyphs" font-size="13px" stroke="#16171c" stroke-width="0.22">TradingView</text>
</svg>
</body></html>
